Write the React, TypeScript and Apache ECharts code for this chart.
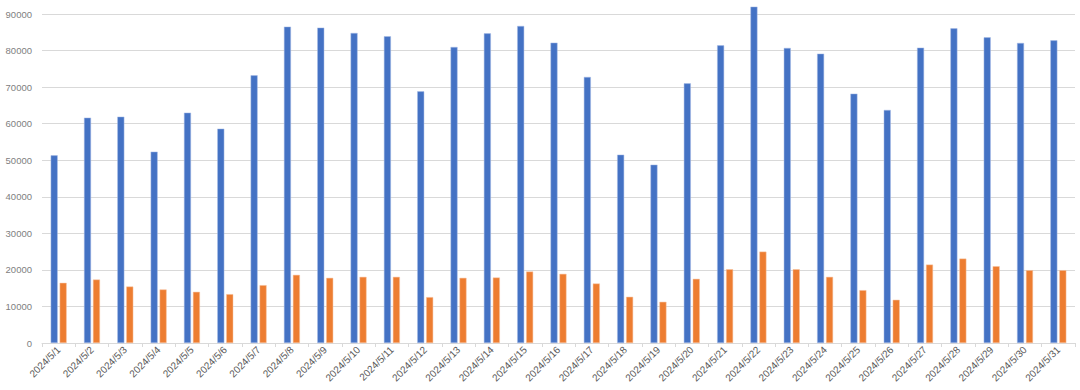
import React, { useEffect, useRef } from "react";
import * as echarts from "echarts";

const categories = [
  "2024/5/1", "2024/5/2", "2024/5/3", "2024/5/4", "2024/5/5", "2024/5/6", "2024/5/7", "2024/5/8",
  "2024/5/9", "2024/5/10", "2024/5/11", "2024/5/12", "2024/5/13", "2024/5/14", "2024/5/15", "2024/5/16",
  "2024/5/17", "2024/5/18", "2024/5/19", "2024/5/20", "2024/5/21", "2024/5/22", "2024/5/23", "2024/5/24",
  "2024/5/25", "2024/5/26", "2024/5/27", "2024/5/28", "2024/5/29", "2024/5/30", "2024/5/31",
];

const seriesA = [
  51330, 61640, 61910, 52340, 63010, 58630, 73220, 86540,
  86270, 84810, 83900, 68840, 80980, 84700, 86730, 82160,
  72780, 51520, 48780, 71030, 81420, 92010, 80710, 79150,
  68210, 63750, 80790, 86070, 83610, 82080, 82790,
];

const seriesB = [
  16450, 17360, 15450, 14640, 14000, 13360, 15820, 18640,
  17820, 18090, 18090, 12550, 17820, 17910, 19550, 18910,
  16270, 12640, 11270, 17550, 20180, 25000, 20180, 18090,
  14450, 11820, 21450, 23090, 21000, 19910, 19910,
];

const yTicks = { min: 0, max: 90000, interval: 10000 };

export default function App() {
  const ref = useRef<HTMLDivElement>(null);
  useEffect(() => {
    if (!ref.current) return;
    const chart = echarts.init(ref.current, null, { renderer: "svg" });
    const font = "Liberation Sans, Arial, sans-serif";
    chart.setOption({
      animation: false,
      grid: { left: 42, right: 5, top: 14, bottom: 47, containLabel: false },
      xAxis: {
        type: "category",
        data: categories,
        boundaryGap: true,
        axisLine: { show: true, lineStyle: { color: "#d9d9d9", width: 1 } },
        axisTick: { show: true, length: 4, lineStyle: { color: "#d9d9d9" } },
        axisLabel: {
          rotate: 45,
          interval: 0,
          color: "#595959",
          fontSize: 10,
          fontFamily: font,
          margin: 5,
        },
      },
      yAxis: {
        type: "value",
        min: yTicks.min,
        max: yTicks.max,
        interval: yTicks.interval,
        axisLine: { show: false },
        axisTick: { show: false },
        splitLine: { lineStyle: { color: "#d9d9d9", width: 1 } },
        axisLabel: {
          color: "#808080",
          fontSize: 9.5,
          fontFamily: font,
          margin: 10,
          formatter: (v: number) => String(v),
        },
      },
      series: [
        {
          type: "bar",
          data: seriesA,
          barWidth: 7,
          barGap: "28%",
          clip: false,
          itemStyle: { color: "#4472c4", borderColor: "#a9bde6", borderWidth: 0.5 },
        },
        {
          type: "bar",
          data: seriesB,
          barWidth: 7,
          barGap: "28%",
          clip: false,
          itemStyle: { color: "#ed7d31", borderColor: "#f6c3a0", borderWidth: 0.5 },
        },
      ],
    });
    return () => chart.dispose();
  }, []);
  return (
    <div
      ref={ref}
      style={{ position: "fixed", left: 0, top: 0, width: 1080, height: 390, background: "#fff" }}
    />
  );
}
